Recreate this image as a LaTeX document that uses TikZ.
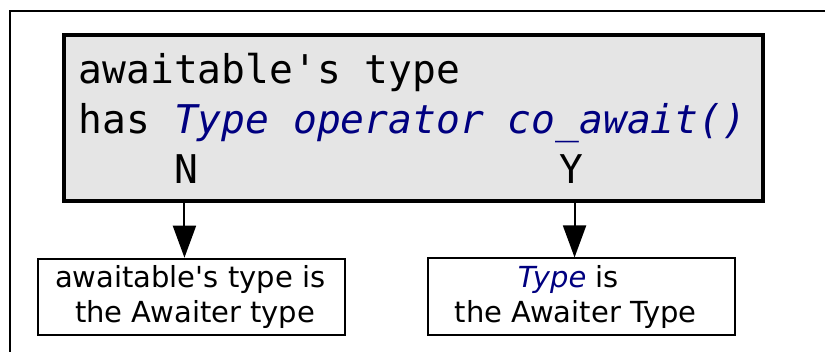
\documentclass[tikz,border=0pt]{standalone}
\usepackage{fontspec}
\setmainfont{DejaVu Sans}[Ligatures=TeXOff]
\newfontfamily\codefont{DejaVu Sans Mono}
\usetikzlibrary{arrows.meta}
\definecolor{boxgray}{RGB}{229,229,229}
\definecolor{typeblue}{RGB}{0,0,128}
\tikzset{
  frameline/.style={draw=black, line width=2.5pt},
  questionbox/.style={draw=black, fill=boxgray, line width=4pt, inner sep=0pt},
  codeline/.style={anchor=base west, inner sep=0pt, font=\codefont\fontsize{39.6}{50}\selectfont},
  answer/.style={anchor=base, inner sep=0pt, font=\codefont\fontsize{39.6}{50}\selectfont},
  resultbox/.style={draw=black, line width=2pt, fill=white, align=center, inner sep=0pt,
    minimum width=306.7pt, minimum height=76.3pt, font=\fontsize{29}{35}\selectfont},
  flow/.style={draw=black, line width=2pt, -{Triangle[length=32pt,width=23pt]}},
}
\begin{document}
\begin{tikzpicture}[x=1pt, y=-1pt]
  \useasboundingbox (0,0) rectangle (825,351);
  \clip (0,0) rectangle (825,351);
  % outer frame, running past the page edges
  \draw[frameline] (10,11) rectangle (860,380);

  % the question
  \node[questionbox, minimum width=699pt, minimum height=165.5pt] (question) at (413,117.75) {};
  \node[codeline] (line1) at (78.5,83) {awaitable's type};
  \node[codeline] (line2) at (78.5,133) {has \textcolor{typeblue}{\itshape Type operator co\_await()}};
  \node[answer] (no) at (186.5,183) {N};
  \node[answer] (yes) at (571.3,183) {Y};

  % the two outcomes
  \node[resultbox] (awaitable) at (191.65,296.85)
    {awaitable's type is\kern3pt\\\kern7pt the Awaiter type};
  \node[resultbox] (awaiter) at (581.75,296.6)
    {\textcolor{typeblue}{\itshape Type} is\kern27pt\\the Awaiter Type\kern12pt};

  % branches
  \coordinate (notap) at ([xshift=-7.2pt]awaitable.north);
  \coordinate (yestap) at ([xshift=-7.2pt]awaiter.north);
  \draw[flow] (question.south -| notap) -- (notap);
  \draw[flow] (question.south -| yestap) -- (yestap);
\end{tikzpicture}
\end{document}
